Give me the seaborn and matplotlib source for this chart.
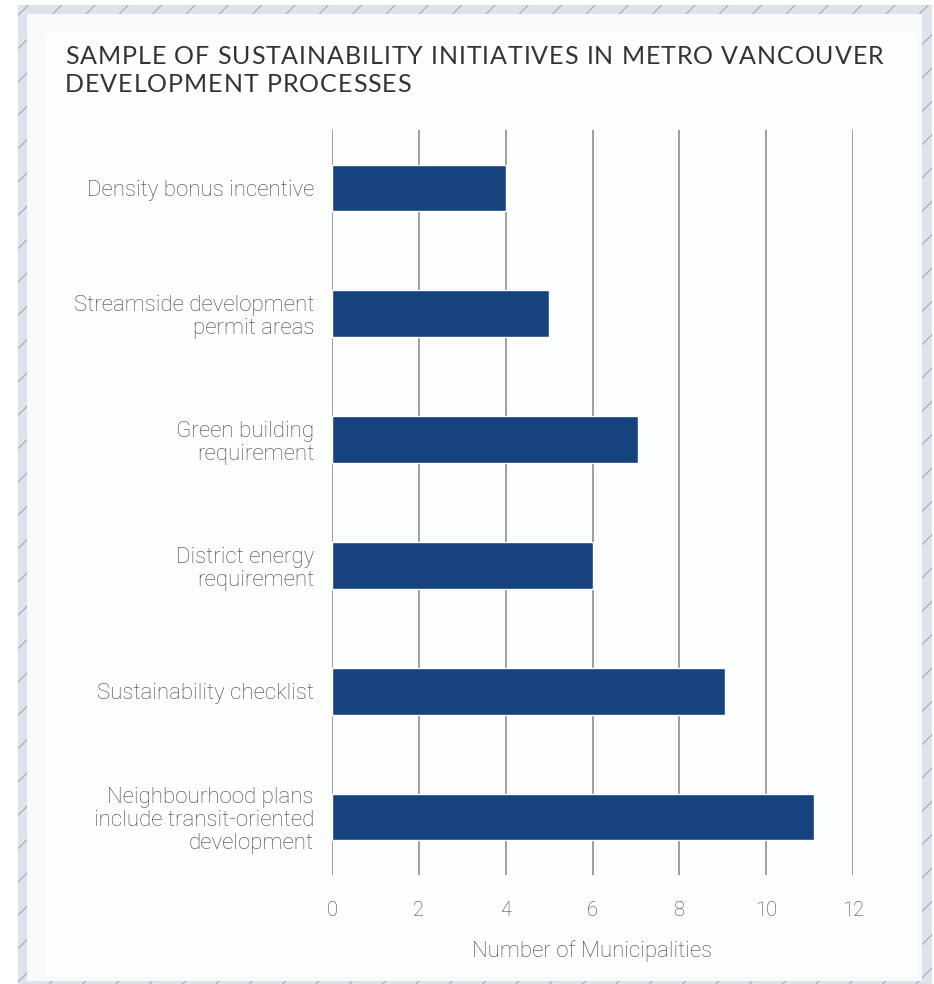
import matplotlib
matplotlib.use("Agg")
import matplotlib.pyplot as plt
from matplotlib.patches import Rectangle
import pandas as pd
import seaborn as sns

initiatives = [
    "Density bonus incentive",
    "Streamside development\npermit areas",
    "Green building\nrequirement",
    "District energy\nrequirement",
    "Sustainability checklist",
    "Neighbourhood plans\ninclude transit-oriented\ndevelopment",
]
municipalities = [4, 5, 7.05, 6, 9.05, 11.1]
x_ticks = [0, 2, 4, 6, 8, 10, 12]

title_lines = ["SAMPLE OF SUSTAINABILITY INITIATIVES IN METRO VANCOUVER",
               "DEVELOPMENT PROCESSES"]
x_label = "Number of Municipalities"

df = pd.DataFrame({"initiative": initiatives, "count": municipalities})

sns.set_theme(style="white")
plt.rcParams["font.family"] = ["Roboto", "DejaVu Sans"]

W, H = 934, 984
fig = plt.figure(figsize=(W / 100, H / 100), dpi=100)
fig.patch.set_facecolor("white")

# hatched frame around the card
plt.rcParams["hatch.color"] = "#a3aab8"
plt.rcParams["hatch.linewidth"] = 0.8
fig.add_artist(Rectangle((18 / W, 0), (932 - 18) / W, (984 - 5) / H,
                         transform=fig.transFigure, facecolor="#dde2ec",
                         edgecolor="#a3aab8", hatch="/", linewidth=0, zorder=0))
# card with a faint inner shade
fig.add_artist(Rectangle((27 / W, 1 - 981 / H), (922 - 27) / W, (981 - 14) / H,
                         transform=fig.transFigure, facecolor="#f8f9fa",
                         edgecolor="none", zorder=0.1))
fig.add_artist(Rectangle((46 / W, 1 - 977 / H), (918 - 46) / W, (977 - 33) / H,
                         transform=fig.transFigure, facecolor="#fcfdfd",
                         edgecolor="none", zorder=0.2))

ax = fig.add_axes([332 / W, 1 - 875 / H, (853 - 332) / W, (875 - 130) / H])
ax.set_zorder(2)
ax.set_facecolor("none")
sns.barplot(data=df, x="count", y="initiative", orient="h", color="#16437e",
            width=0.37, saturation=1, ax=ax, zorder=3)

label_color = "#444444"
ax.set_xlim(0, 12)
ax.set_ylim(5.46, -0.46)
ax.set_xticks(x_ticks)
ax.set_xticklabels([str(t) for t in x_ticks])
ax.xaxis.grid(True, color="#8e8e90", linewidth=1.2, zorder=1)
ax.yaxis.grid(False)
ax.set_axisbelow(True)
for s in ax.spines.values():
    s.set_visible(False)
ax.tick_params(axis="x", length=0, pad=19, labelsize=14.5, labelcolor=label_color)
ax.tick_params(axis="y", length=0, pad=13, labelsize=16, labelcolor=label_color)
for lbl in ax.get_xticklabels():
    lbl.set_fontweight("light")
for lbl in ax.get_yticklabels():
    lbl.set_fontweight("light")
    lbl.set_linespacing(1.12)
ax.set_ylabel("")
ax.set_xlabel(x_label, fontsize=16, color=label_color, fontweight="light", labelpad=14)

# letter-spaced title, drawn one glyph at a time
renderer = fig.canvas.get_renderer()
title_kw = dict(fontsize=18, family=["Lato", "DejaVu Sans"], color="#333333")
tracking = 0.95  # extra pixels between glyphs
x0, y_first, line_step = 65, 56, 29


def text_width(s):
    if not s:
        return 0.0
    t = fig.text(0, 0, s.replace(" ", "\u00a0"), **title_kw)
    w = t.get_window_extent(renderer).width
    t.remove()
    return w


for row, line in enumerate(title_lines):
    y = 1 - (y_first + row * line_step) / H
    for i, ch in enumerate(line):
        if ch == " ":
            continue
        px = x0 + text_width(line[:i]) + i * tracking
        fig.text(px / W, y, ch, ha="left", va="center", zorder=5, **title_kw)

fig.savefig("out.png", dpi=100)
